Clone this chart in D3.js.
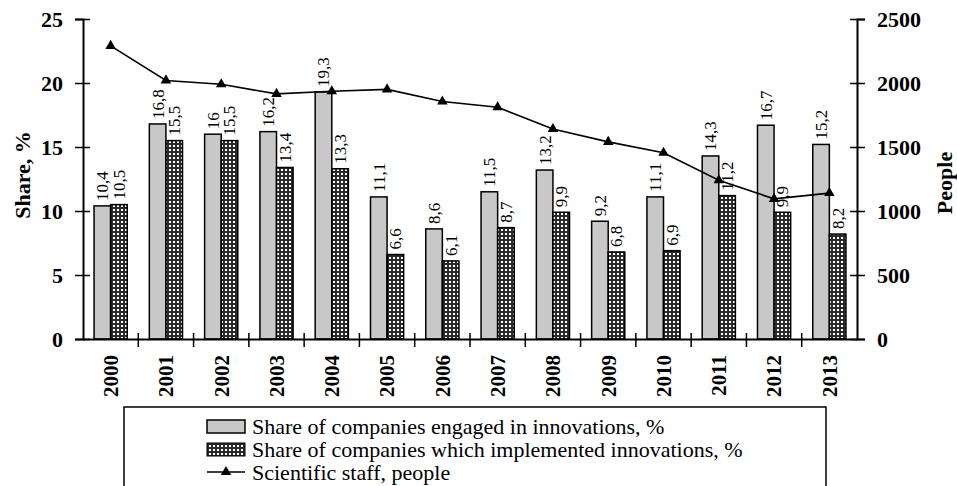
<!DOCTYPE html>
<html>
<head>
<meta charset="utf-8">
<script src="https://cdn.jsdelivr.net/npm/d3@7"></script>
<style>
body{margin:0;background:#fff;}
svg{display:block;font-family:"Liberation Serif","Times New Roman",serif;}
</style>
</head>
<body>
<div id="chart"></div>
<script>
// data
var years=['2000','2001','2002','2003','2004','2005','2006','2007','2008','2009','2010','2011','2012','2013'];
var engaged=[10.4,16.8,16,16.2,19.3,11.1,8.6,11.5,13.2,9.2,11.1,14.3,16.7,15.2];
var implemented=[10.5,15.5,15.5,13.4,13.3,6.6,6.1,8.7,9.9,6.8,6.9,11.2,9.9,8.2];
var staff=[2290,2020,1990,1915,1935,1950,1855,1810,1640,1540,1455,1240,1095,1140];
var shareTicks=[0,5,10,15,20,25];
var peopleTicks=[0,500,1000,1500,2000,2500];
var legendNames=['Share of companies engaged in innovations, %','Share of companies which implemented innovations, %','Scientific staff, people'];

(function(){
var W=957,H=486;
var mL=83,mR=857,mT=19,mB=339;

var svg=d3.select('#chart').append('svg').attr('width',W).attr('height',H);

//pattern for second series
var pat=svg.append('defs').append('pattern')
	.attr('id','dots').attr('patternUnits','userSpaceOnUse')
	.attr('width',4).attr('height',4);
pat.append('rect').attr('width',4).attr('height',4).attr('fill','#2a2a2a');
pat.append('rect').attr('x',1).attr('y',1).attr('width',2).attr('height',2).attr('fill','#fff');

var x=d3.scaleBand().domain(years).range([mL,mR]);
var yL=d3.scaleLinear().domain([0,25]).range([mB,mT]);
var yR=d3.scaleLinear().domain([0,2500]).range([mB,mT]);
var bw=x.bandwidth()*0.3;
var cx=function(d){return x(d)+x.bandwidth()/2;};
var fmt=function(v){return String(v).replace('.',',');};

//bars
var g=svg.append('g');
g.selectAll('rect.a').data(years).enter().append('rect').attr('class','a')
	.attr('x',function(d){return cx(d)-bw;})
	.attr('y',function(d,i){return yL(engaged[i]);})
	.attr('width',bw)
	.attr('height',function(d,i){return mB-yL(engaged[i]);})
	.attr('fill','#c8c8c8').attr('stroke','#000').attr('stroke-width',1.5);
g.selectAll('rect.b').data(years).enter().append('rect').attr('class','b')
	.attr('x',function(d){return cx(d);})
	.attr('y',function(d,i){return yL(implemented[i]);})
	.attr('width',bw)
	.attr('height',function(d,i){return mB-yL(implemented[i]);})
	.attr('fill','url(#dots)').attr('stroke','#000').attr('stroke-width',1.5);

//value labels
function labels(vals,off){
	g.selectAll(null).data(years).enter().append('text')
		.attr('transform',function(d,i){return 'translate('+(cx(d)+off)+','+(yL(vals[i])-5)+') rotate(-90)';})
		.attr('dy','0.35em')
		.style('font-size','17px')
		.text(function(d,i){return fmt(vals[i]);});
}
labels(engaged,-bw/2);
labels(implemented,bw/2);

//line
var line=d3.line().x(function(d,i){return cx(years[i]);}).y(function(d){return yR(d);});
svg.append('path').datum(staff).attr('d',line)
	.attr('fill','none').attr('stroke','#000').attr('stroke-width',1.6);
var tri=d3.symbol().type(d3.symbolTriangle).size(48);
svg.selectAll('path.m').data(staff).enter().append('path').attr('class','m')
	.attr('d',tri)
	.attr('transform',function(d,i){return 'translate('+cx(years[i])+','+yR(d)+')';})
	.attr('fill','#000');

//axes
var axL=svg.append('g').attr('transform','translate('+mL+',0)')
	.call(d3.axisLeft(yL).tickValues(shareTicks).tickFormat(d3.format('d')).tickSizeOuter(0).tickSize(8).tickPadding(12));
axL.selectAll('.tick line').attr('x1',7);
var axR=svg.append('g').attr('transform','translate('+mR+',0)')
	.call(d3.axisRight(yR).tickValues(peopleTicks).tickFormat(d3.format('d')).tickSizeOuter(0).tickSize(8).tickPadding(12));
axR.selectAll('.tick line').attr('x1',-7);
[axL,axR].forEach(function(a){
	a.select('.domain').attr('stroke','#000').attr('stroke-width',2);
	a.selectAll('.tick line').attr('stroke','#000').attr('stroke-width',1.5);
	a.selectAll('.tick text').style('font-family','"Liberation Serif","Times New Roman",serif')
		.style('font-size','22px').style('font-weight','bold').attr('fill','#000');
});

var axX=svg.append('g').attr('transform','translate(0,'+mB+')')
	.call(d3.axisBottom(x).tickSize(0).tickPadding(0));
axX.select('.domain').attr('stroke','#000').attr('stroke-width',2);
axX.selectAll('.tick text')
	.attr('transform','translate(0,16) rotate(-90)')
	.attr('text-anchor','end').attr('x',0).attr('y',0).attr('dy','0.35em')
	.style('font-family','"Liberation Serif","Times New Roman",serif')
	.style('font-size','21px').style('font-weight','bold').attr('fill','#000');
axX.selectAll('line.sep').data(years.slice(1)).enter().append('line').attr('class','sep')
	.attr('x1',function(d){return x(d);}).attr('x2',function(d){return x(d);})
	.attr('y1',-6).attr('y2',8).attr('stroke','#000').attr('stroke-width',1.5);

//axis titles
svg.append('text').attr('transform','translate(22,175) rotate(-90)')
	.attr('text-anchor','middle').attr('dy','0.35em')
	.style('font-size','22px').style('font-weight','bold').text('Share, %');
svg.append('text').attr('transform','translate(944,183) rotate(-90)')
	.attr('text-anchor','middle').attr('dy','0.35em')
	.style('font-size','22px').style('font-weight','bold').text('People');

//legend
var lg=svg.append('g');
lg.append('rect').attr('x',124).attr('y',407).attr('width',702).attr('height',120)
	.attr('fill','none').attr('stroke','#000').attr('stroke-width',1.5);
var rowY=[426,449,472];
lg.append('rect').attr('x',207).attr('y',rowY[0]-6).attr('width',38).attr('height',13)
	.attr('fill','#c8c8c8').attr('stroke','#000').attr('stroke-width',1.5);
lg.append('rect').attr('x',207).attr('y',rowY[1]-6).attr('width',38).attr('height',13)
	.attr('fill','url(#dots)').attr('stroke','#000').attr('stroke-width',1);
lg.append('line').attr('x1',207).attr('x2',245).attr('y1',rowY[2]).attr('y2',rowY[2])
	.attr('stroke','#000').attr('stroke-width',1.5);
lg.append('path').attr('d',tri).attr('transform','translate(226,'+rowY[2]+')').attr('fill','#000');
lg.selectAll('text').data(legendNames).enter().append('text')
	.attr('x',252).attr('y',function(d,i){return rowY[i];}).attr('dy','0.35em')
	.style('font-size','22px').text(function(d){return d;});
})();
</script>
</body>
</html>
